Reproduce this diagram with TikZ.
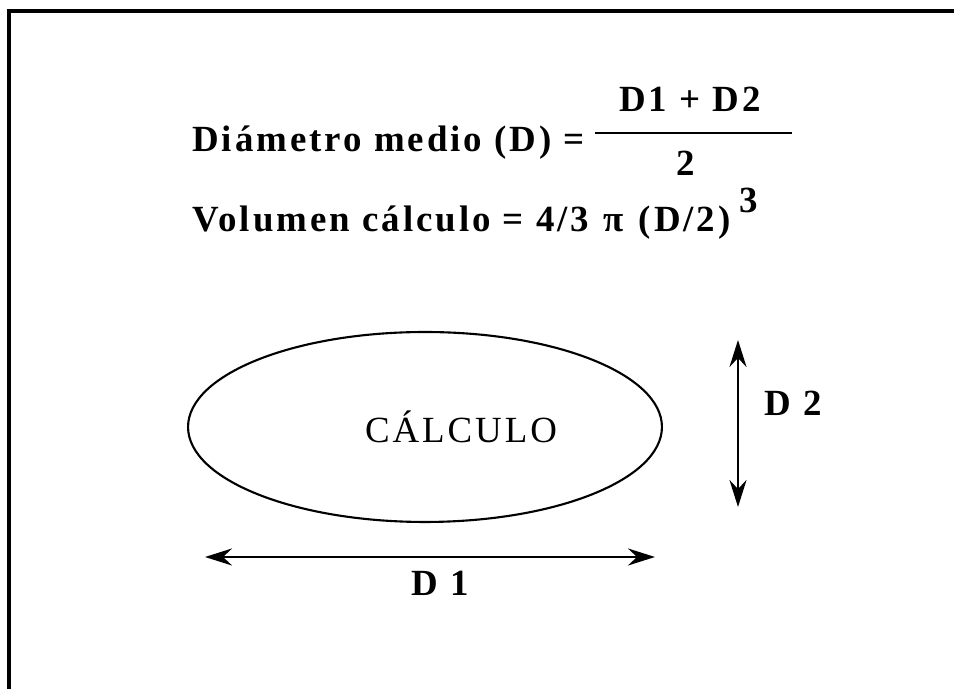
\documentclass[tikz,border=0pt]{standalone}
\usepackage{fontspec}
\setmainfont{Liberation Serif}
\newfontfamily\spacedserif[LetterSpace=8]{Liberation Serif}
\usetikzlibrary{arrows.meta,shapes.geometric}
\tikzset{
    formula/.style={
        inner sep=0pt,
        anchor=base west,
        font=\spacedserif\fontsize{21}{25}\selectfont\bfseries
    },
    fracpart/.style={
        inner sep=0pt,
        anchor=base,
        font=\spacedserif\fontsize{21}{25}\selectfont\bfseries
    },
    fracbar/.style={
        line width=1.5pt
    },
    frameline/.style={
        line width=2.3pt
    },
    shapeoutline/.style={
        draw,
        ellipse,
        line width=1.2pt,
        minimum width=9.48cm,
        minimum height=3.8cm
    },
    shapelabel/.style={
        inner sep=0pt,
        font=\spacedserif\fontsize{21}{25}\selectfont
    },
    dimlabel/.style={
        inner sep=0pt,
        font=\spacedserif\fontsize{21}{25}\selectfont\bfseries
    },
    dimarrow/.style={
        {Stealth[length=5.4mm,width=3.4mm,inset=1.8mm]}-{Stealth[length=5.4mm,width=3.4mm,inset=1.8mm]},
        line width=1.6pt
    }
}
\begin{document}
\begin{tikzpicture}[x=0.02cm,y=0.02cm]
        \useasboundingbox (0,0) rectangle (954,689);
        % frame (top and left edge only)
        \draw[frameline] (9,0) -- (9,678) -- (954,678);

        % formulas
        \node[formula] (mean) at (192,537) {Diámetro medio (D) =};
        \node[fracpart] (num) at (690,577) {D1 + D2};
        \node[fracpart] (den) at (686,513) {2};
        \coordinate (barleft) at (595,556);
        \coordinate (barright) at (792,556);
        \draw[fracbar] (barleft) -- (barright);
        \node[formula] (volume) at (192,457)
            {Volumen cálculo = 4/3\hspace{0.4em}π\hspace{0.4em}(D/2)};
        \node[fracpart] (cube) at (749,476) {3};

        % shape and its dimensions
        \node[shapeoutline] (outline) at (425,262) {};
        \node[shapelabel] (calc) at (461,262) {CÁLCULO};
        \coordinate (dleft) at (205,132);
        \coordinate (dright) at (655,132);
        \draw[dimarrow] (dleft) -- (dright);
        \node[dimlabel] (done) at (440,106) {D 1};
        \coordinate (dtop) at (738,349);
        \coordinate (dbottom) at (738,182);
        \draw[dimarrow] (dtop) -- (dbottom);
        \node[dimlabel] (dtwo) at (793,286) {D 2};
    \end{tikzpicture}
\end{document}
